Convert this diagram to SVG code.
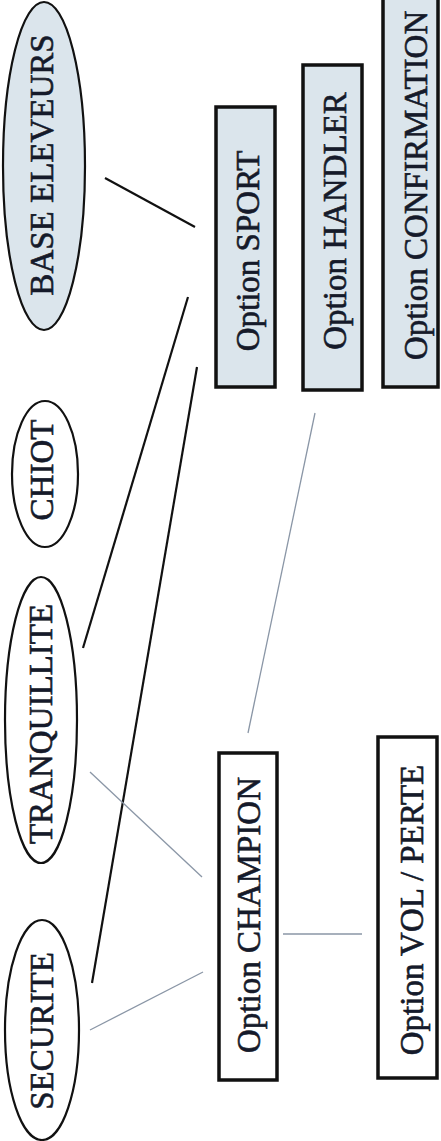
<svg xmlns="http://www.w3.org/2000/svg" width="441" height="1141" viewBox="0 0 441 1141">
<style>
text{font-family:"Liberation Serif","Times New Roman",serif;font-size:33px;fill:#151a2a;stroke:#151a2a;stroke-width:0.6;text-anchor:middle}
.el{stroke:#111;stroke-width:2.2}
.bx{stroke:#111;stroke-width:3.5}
.blue{fill:#dbe5ec}
.white{fill:#fff}
.dark{stroke:#111;stroke-width:2.2;fill:none}
.light{stroke:#8a96a6;stroke-width:1.3;fill:none}
</style>
<rect width="441" height="1141" fill="#fff"/>
<g id="connectors">
<line class="dark" x1="105" y1="178" x2="195" y2="227"/>
<line class="dark" x1="83" y1="648" x2="188" y2="297"/>
<line class="dark" x1="92" y1="983" x2="197" y2="367"/>
<line class="light" x1="90" y1="772" x2="202" y2="877"/>
<line class="light" x1="90" y1="1030" x2="203" y2="972"/>
<line class="light" x1="283" y1="934" x2="362" y2="934"/>
<line class="light" x1="315" y1="413" x2="248" y2="733"/>
</g>
<g id="base-eleveurs">
<ellipse class="el blue" cx="44" cy="166" rx="41" ry="164"/>
<text transform="translate(53,165) rotate(-90)">BASE ELEVEURS</text>
</g>
<g id="chiot">
<ellipse class="el white" cx="45" cy="474" rx="33" ry="73"/>
<text transform="translate(53,470) rotate(-90)">CHIOT</text>
</g>
<g id="tranquillite">
<ellipse class="el white" cx="41" cy="720" rx="36" ry="143"/>
<text transform="translate(52,724) rotate(-90)">TRANQUILLITE</text>
</g>
<g id="securite">
<ellipse class="el white" cx="42" cy="1030" rx="37" ry="110"/>
<text transform="translate(53,1031) rotate(-90)">SECURITE</text>
</g>
<g id="option-sport">
<rect class="bx blue" x="216" y="107" width="59" height="280"/>
<text transform="translate(259,251) rotate(-90)">Option SPORT</text>
</g>
<g id="option-handler">
<rect class="bx blue" x="303" y="65" width="59" height="325"/>
<text transform="translate(346,221) rotate(-90)">Option HANDLER</text>
</g>
<g id="option-confirmation">
<rect class="bx blue" x="383" y="-5" width="55" height="392"/>
<text transform="translate(427,360) rotate(-90)" style="text-anchor:start">Option CONFIRMATION</text>
</g>
<g id="option-champion">
<rect class="bx white" x="219" y="753" width="58" height="327"/>
<text transform="translate(260,915) rotate(-90)">Option CHAMPION</text>
</g>
<g id="option-vol-perte">
<rect class="bx white" x="378" y="737" width="59" height="341"/>
<text transform="translate(423,910) rotate(-90)">Option VOL / PERTE</text>
</g>
</svg>
